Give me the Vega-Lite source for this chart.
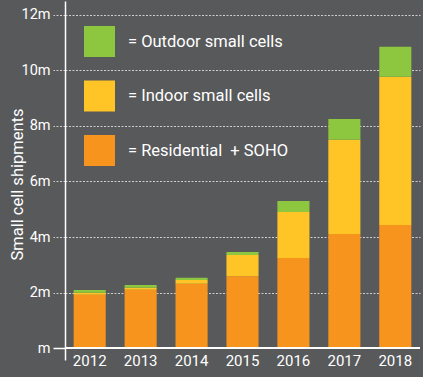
{
  "$schema": "https://vega.github.io/schema/vega-lite/v6.json",
  "autosize": {"type": "none"},
  "padding": {"left": 65, "top": 1, "right": 3, "bottom": 17},
  "width": 355,
  "height": 359,
  "background": "#58595b",
  "config": {
    "view": {"stroke": null},
    "font": "Roboto"
  },
  "data": {
    "values": [
      {"year": "2012", "type": "Residential", "v": 1.92},
      {"year": "2012", "type": "Indoor small cells", "v": 0.07},
      {"year": "2012", "type": "Outdoor small cells", "v": 0.10},
      {"year": "2013", "type": "Residential", "v": 2.10},
      {"year": "2013", "type": "Indoor small cells", "v": 0.07},
      {"year": "2013", "type": "Outdoor small cells", "v": 0.10},
      {"year": "2014", "type": "Residential", "v": 2.32},
      {"year": "2014", "type": "Indoor small cells", "v": 0.13},
      {"year": "2014", "type": "Outdoor small cells", "v": 0.08},
      {"year": "2015", "type": "Residential", "v": 2.59},
      {"year": "2015", "type": "Indoor small cells", "v": 0.76},
      {"year": "2015", "type": "Outdoor small cells", "v": 0.11},
      {"year": "2016", "type": "Residential", "v": 3.24},
      {"year": "2016", "type": "Indoor small cells", "v": 1.66},
      {"year": "2016", "type": "Outdoor small cells", "v": 0.40},
      {"year": "2017", "type": "Residential", "v": 4.11},
      {"year": "2017", "type": "Indoor small cells", "v": 3.39},
      {"year": "2017", "type": "Outdoor small cells", "v": 0.75},
      {"year": "2018", "type": "Residential", "v": 4.43},
      {"year": "2018", "type": "Indoor small cells", "v": 5.34},
      {"year": "2018", "type": "Outdoor small cells", "v": 1.08}
    ]
  },
  "layer": [
    {
      "transform": [
        {"calculate": "indexof(['Residential','Indoor small cells','Outdoor small cells'], datum.type)", "as": "ord"}
      ],
      "mark": {"type": "bar"},
      "encoding": {
        "x": {
          "field": "year",
          "type": "ordinal",
          "scale": {"paddingInner": 0.37, "paddingOuter": 0.17},
          "axis": {
            "title": null,
            "labelAngle": 0,
            "domain": false,
            "ticks": false,
            "tickSize": 0,
            "labelPadding": 0,
            "labelBaseline": "middle",
            "labelColor": "white",
            "labelFontSize": 15,
            "labelFont": "Roboto"
          }
        },
        "y": {
          "field": "v",
          "type": "quantitative",
          "stack": "zero",
          "scale": {"domain": [-0.43, 12.5], "nice": false, "zero": false},
          "axis": {
            "title": "Small cell shipments",
            "titleColor": "white",
            "titleFontSize": 16.5,
            "titleFontWeight": "normal",
            "titleFont": "Roboto",
            "titleX": -48,
            "titleY": 183,
            "titleBaseline": "middle",
            "titleAngle": -90,
            "values": [0, 2, 4, 6, 8, 10, 12],
            "labelExpr": "datum.value == 0 ? 'm' : datum.value + 'm'",
            "labelColor": "white",
            "labelFontSize": 14.5,
            "labelPadding": 3,
            "tickSize": 12,
            "tickColor": {"condition": {"test": "datum.value == 0", "value": "white"}, "value": "#cfcfcf"},
            "tickDash": {"condition": {"test": "datum.value == 0", "value": []}, "value": [2, 1.5]},
            "tickWidth": {"condition": {"test": "datum.value == 0", "value": 1.5}, "value": 1},
            "domainColor": "white",
            "domainWidth": 1.5,
            "grid": true,
            "gridColor": "#cfcfcf",
            "gridDash": [2, 1.5],
            "gridOpacity": {"condition": {"test": "datum.value == 0", "value": 0}, "value": 1}
          }
        },
        "order": {"field": "ord", "type": "quantitative", "sort": "ascending"},
        "color": {
          "field": "type",
          "type": "nominal",
          "scale": {
            "domain": ["Outdoor small cells", "Indoor small cells", "Residential"],
            "range": ["#8dc63f", "#ffc425", "#f7941d"]
          },
          "legend": {
            "title": null,
            "orient": "none",
            "legendX": 19,
            "legendY": 25,
            "padding": 0,
            "symbolType": "square",
            "symbolSize": 961,
            "symbolStrokeWidth": 0,
            "symbolOpacity": 1,
            "rowPadding": 23.5,
            "labelOffset": 13,
            "labelColor": "white",
            "labelFontSize": 16.5,
            "labelFont": "Roboto",
            "labelLimit": 300,
            "labelExpr": "datum.label == 'Residential' ? '= Residential\u00a0\u00a0+ SOHO' : '= ' + datum.label"
          }
        }
      }
    },
    {
      "mark": {"type": "rule", "color": "white", "strokeWidth": 1.5},
      "encoding": {"y": {"datum": 0, "type": "quantitative"}}
    }
  ]
}
